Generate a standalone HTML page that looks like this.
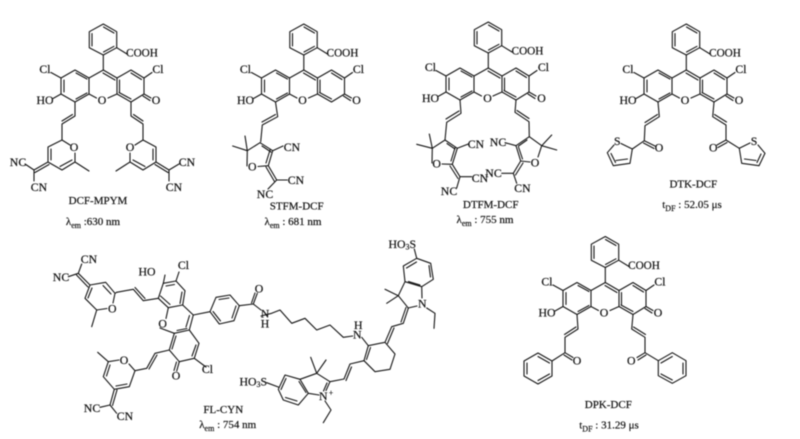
<!DOCTYPE html>
<html><head><meta charset="utf-8"><style>
html,body{margin:0;padding:0;background:#fff;width:800px;height:439px;overflow:hidden}
svg{display:block;filter:blur(.4px)}
.b{fill:none;stroke:#151515;stroke-width:1.1;stroke-linejoin:round;stroke-linecap:round}
text{font-family:"Liberation Serif","DejaVu Serif",serif;font-size:11.8px;fill:#111;stroke:#111;stroke-width:.2;text-anchor:middle;dominant-baseline:central}
.l{font-size:11px}
.s{font-size:8px}
.c{font-size:11.2px}
</style></head><body>
<svg width="800" height="439" viewBox="0 0 800 439" xmlns="http://www.w3.org/2000/svg">
<defs>
<g id="core" class="b">
<path d="M103.3 24L116.7 31.7V47.7L103.3 55L89.3 47.7V31.7ZM92 33.5V46M103.5 27L114 33M114 46.3L103.5 52"/>
<path d="M116.7 47.7L127 54M103.3 55V70"/>
<path d="M103.3 70L89 78V94L96.5 98M108 98L117 94V78L103.3 70M103 73L115 80"/>
<path d="M89 78L75 70L61 78V94L75 102L89 94M64 80V92M76 73L87 79M76 99L87 93"/>
<path d="M117 78L131 70L144 78V94L131 102L117 94M119.5 80V92M131 73L141.5 79.5M131 99L119 92.5"/>
<path d="M61 78L51 72.5M144 78L152 72.5M61 94L53 98.5M144 94L151 98M143 96L150 100.5"/>
</g>
</defs>

<!-- DCF-MPYM -->
<use href="#core"/>
<path class="b" d="M75 102V116L62 124V140M72.5 114.5L62 121M131 102V116L143 124V140M133.5 114.5L143 121"/>
<path class="b" d="M62 140L70 145M75 153V162L62 170L48 162V147L62 140M75 162L89 171M60 166.5L72 160M51 149V160M48 162L34 170M49 164.5L35 172.5M34 170L25 164M34 170V181"/>
<path class="b" d="M143 140L135 145M130 153V162L143 170L156 162V147L143 140M130 162L116 171M145 166.5L133 160M153 149V160M156 162L169 170M155 164.5L168 172.5M169 170L179 164M169 170V181"/>
<text class="c" x="142" y="53.5">COOH</text>
<text x="45" y="69">Cl</text><text x="158" y="69">Cl</text><text x="45" y="100">HO</text>
<text x="102" y="100">O</text><text x="156" y="100">O</text>
<text x="74" y="147">O</text><text x="130" y="147">O</text>
<text x="18" y="162">NC</text><text x="39" y="187">CN</text>
<text x="187" y="162">CN</text><text x="174" y="187">CN</text>
<text class="l" x="98" y="201">DCF-MPYM</text>
<text class="l" x="93" y="222">λ<tspan class="s" dy="3">em</tspan><tspan dy="-3"> :630 nm</tspan></text>

<!-- STFM-DCF -->
<use href="#core" x="200.5"/>
<path class="b" d="M275.5 102L277.7 116.7L262.3 125L260.7 141.7M275.5 114.5L262 122"/>
<path class="b" d="M260 142.7L272.7 150.7L268.3 165.7L258 166.5M247 166L247.3 150.7L260 142.7M262 146L271 152M270 150L266 163"/>
<path class="b" d="M247.3 150.7L232.7 146M247.3 150.7L245 136M272.7 150.7L283 146M268.3 165.7L276.7 180M266 167L274.5 181.5M276.7 180H287.3M276.7 180L268 189"/>
<text class="c" x="342.5" y="53.5">COOH</text>
<text x="245.5" y="69">Cl</text><text x="358.5" y="69">Cl</text><text x="245.5" y="100">HO</text>
<text x="302.5" y="100">O</text><text x="356.5" y="100">O</text>
<text x="252.3" y="166.7">O</text><text x="292" y="147">CN</text><text x="296" y="180">CN</text><text x="265" y="194">NC</text>
<text class="l" x="296.7" y="206.7">STFM-DCF</text>
<text class="l" x="293" y="222">λ<tspan class="s" dy="3">em</tspan><tspan dy="-3"> : 681 nm</tspan></text>

<!-- DTFM-DCF -->
<use href="#core" x="385" y="-2"/>
<path class="b" d="M460 100L461 113.3L446.7 122.3L445 140M459 111L446 119M516 100L515 112.3L529 121.7L529.3 136.7M517 110.5L529 118.5"/>
<path class="b" d="M445 140L457.3 148.3L452.3 164.3L442 164M432 163L432.3 148.3L445 140M447 143.5L455 149M455 148L451 161"/>
<path class="b" d="M432.3 148.3L416.7 144.3M432.3 148.3L429.3 134M457.3 148.3L468.3 144M452.3 164.3L460 176.7M450 166L458 178.5M460 176.7H471.7M460 176.7L456.7 188"/>
<path class="b" d="M529.3 136.7L541.7 145.7L538 157M530 162L520.7 161L516 145.7L529.3 136.7M527 140L518.5 146M518.5 147L522.5 159"/>
<path class="b" d="M541.7 145.7L551.7 135M541.7 145.7L556.7 150M516 145.7L505 142.7M520.7 161L513.3 173.3M523 163L515.5 175M513.3 173.3H501.7M513.3 173.3L516.7 183.3"/>
<text class="c" x="527.5" y="51.5">COOH</text>
<text x="430.5" y="67">Cl</text><text x="543.5" y="67">Cl</text><text x="430.5" y="98">HO</text>
<text x="487.5" y="98">O</text><text x="541.5" y="98">O</text>
<text x="436.7" y="163.3">O</text><text x="535" y="162.3">O</text>
<text x="476" y="144">CN</text><text x="480" y="178">CN</text><text x="449" y="191">NC</text>
<text x="498" y="142">NC</text><text x="493.5" y="173">NC</text><text x="522.5" y="188">CN</text>
<text class="l" x="490.7" y="205">DTFM-DCF</text>
<text class="l" x="485" y="220">λ<tspan class="s" dy="3">em</tspan><tspan dy="-3"> : 755 nm</tspan></text>

<!-- DTK-DCF -->
<use href="#core" x="583"/>
<path class="b" d="M658 102L659.3 116.7L645 125.7L644.3 140.7M657.5 114.5L645 122.5M644.3 140.7L655 146M643.5 143L654 148.5M644.3 140.7L632.3 149"/>
<path class="b" d="M632.3 149L621 143.5M614 145L607.3 152.7L613.3 165.7L630 163.3L632.3 149M611 153.5L615.5 162.5M616 160.5L627.5 159"/>
<path class="b" d="M714 102L712.7 116.7L726 125L726 140M714.5 114.5L726.5 122M726 140L717 145M727 142.5L718 147.5M726 140L739.3 148.3"/>
<path class="b" d="M739.3 148.3L750 143M758 145L765 153.3L759 165.7L741.7 163.3L739.3 148.3M761 154L757 162.5M756 160.5L744.5 159"/>
<text class="c" x="725" y="53.5">COOH</text>
<text x="628" y="69">Cl</text><text x="741" y="69">Cl</text><text x="628" y="100">HO</text>
<text x="685" y="100">O</text><text x="739" y="100">O</text>
<text x="659" y="147.7">O</text><text x="713.3" y="147.7">O</text>
<text x="617.3" y="141">S</text><text x="754" y="141">S</text>
<text class="l" x="693.3" y="184.3">DTK-DCF</text>
<text class="l" x="692" y="205">t<tspan class="s" dy="3">DF</tspan><tspan dy="-3"> : 52.05 μs</tspan></text>

<!-- DPK-DCF -->
<use href="#core" x="502" y="212.5"/>
<path class="b" d="M577 314.5L578 329L565 337.3V352.7M576 327L564.5 334.5M565 352.7L573 357.5M564 355L572 360M565 352.7L552 361"/>
<path class="b" d="M552 361L538 353L524 361V376L538 384L552 376ZM527 363V374M538 356.5L549.5 363M538 380.5L549.5 374"/>
<path class="b" d="M633 314.5L631.7 329L645 337.3V352.7M633.5 327L645.5 334.5M645 352.7L637 357.5M646 355L638 360M645 352.7L658.3 360.7"/>
<path class="b" d="M658.3 360.7L672.3 352.7L686 360.7V375.7L672.3 383.3L658.3 375.7ZM683 363V374M672.3 356.5L661 363M672.3 380L661 374"/>
<text class="c" x="644" y="266">COOH</text>
<text x="547" y="281.5">Cl</text><text x="660" y="281.5">Cl</text><text x="547" y="312.5">HO</text>
<text x="604" y="312.5">O</text><text x="658" y="312.5">O</text>
<text x="577" y="360.5">O</text><text x="631.3" y="360.5">O</text>
<text class="l" x="608.3" y="405">DPK-DCF</text>
<text class="l" x="609" y="425.7">t<tspan class="s" dy="3">DF</tspan><tspan dy="-3"> : 31.29 μs</tspan></text>

<!-- FL-CYN -->
<path class="b" d="M163.3 283.3L176 281L185 290.7L182.7 305L168.3 307.7L158.3 298.3ZM166 286L174.5 284.5M182 292L180 303.5M170 304.5L160.5 296"/>
<path class="b" d="M168.3 307.7L166 318.5M160 328L174.3 333.3L189.3 330L193.3 315L182.7 305M186 327L189.5 315.5M177 330.5L187 328.5"/>
<path class="b" d="M174.3 333.3L169.3 350L179.3 361.7L194.3 358.3L199 343.3L189.3 330M172 349L176 336M196 345L192 356"/>
<path class="b" d="M163.3 283.3L165 275M176 281L179 272M158.3 298.3L143.3 300.7L133.3 289.3L116.7 292.3M145 298.5L135 287.5"/>
<path class="b" d="M193.3 315L210 311.7L216 297.3L230 295L239.3 305.7L234 320.7L219.3 324L210 311.7M219 299.5L229 298M236 306L232 318M213 311.5L220.5 321"/>
<path class="b" d="M239.3 305.7L253.3 304L257.3 293.3M251.5 303L255 293M253.3 304L261 310"/>
<path class="b" d="M116.7 292.3L115 293.3L113 303M107 308.5L96.7 310L85 298.3L90 285L105.7 282.3L115 293.3M96.7 310L91.7 326.7M88 298L92 288M103 285.5L111 294M90 285L78.3 273.3M88 287L76.5 275M78.3 273.3L68.3 276.7M78.3 273.3L81.7 264"/>
<path class="b" d="M194.3 358.3L206 367M179.3 361.7L176.7 371M176.5 362L174 370.5M169.3 350L155 353.3L146.7 368.3L135 370.7M157 355L149 369"/>
<path class="b" d="M135 370.7L129 364M119 360L108.3 361.7L103.3 376.7L114.3 389.3L129.3 386.7L135 370.7M108.3 361.7L97.7 352.3M106.5 376L110 365M116 386L127 384M114.3 389.3L110 405M117 390L112.5 405.5M110 405L100 407.3M110 405L116.7 413.3"/>
<path class="b" d="M261 316L271.7 313.3L280 310L291.7 323.3L305 318.3L316.7 330L330 325L343.3 337.3L352.7 336M361.7 337.3L368.3 345.7"/>
<path class="b" d="M368.3 345.7L385 342.3L395 354L390 369.3L375 371.7L364 360.7ZM370.5 347.5L366.5 359.5M385 342.3L391.7 326.7M387.5 343.5L394 328M391.7 326.7L403.3 323.3L408.3 308.3M401 322L406 307.5"/>
<path class="b" d="M408 308L417 306M407.7 307.3L398.3 295.7L405 281.7L421.7 286.7L422 298M405 281.7L403.3 266L416.7 258.3L430.7 263.3L433.3 279.3L421.7 286.7M406.5 268L416.5 262M429 265.5L430.5 277M408.5 281.5L420 285M416.7 258.3L414.3 249M398.3 295.7L385 289.3M398.3 295.7L386.7 303.3M426.7 308L435 313.3L434 328.3"/>
<path class="b" d="M364 360.7L350 364L344 379L330 381.7M351.5 367L346 380.5M330 381.7L316.7 373.3L300 379.3L308.3 393.3L319 395M330 381.7L326 390.5M327 383L323.5 391M316.7 373.3L310.7 357.3M316.7 373.3L326 360"/>
<path class="b" d="M300 379.3L285 375L278.3 389.3L283.3 400L298.3 405L308.3 393.3M286 378.5L281 389.5M285.5 397.5L297 401M299 381.5L306 392.5M266.7 382.7L278.3 387M325 401L331 410L323.3 422.7"/>
<text x="147" y="271.7">HO</text><text x="183.5" y="265">Cl</text><text x="162.7" y="323.3">O</text>
<text x="176" y="375.7">O</text><text x="207.5" y="369">Cl</text>
<text x="112.3" y="308.3">O</text><text x="124" y="360">O</text>
<text x="61" y="277">NC</text><text x="89" y="259">CN</text><text x="92" y="408">NC</text><text x="125" y="416">CN</text>
<text x="259" y="288.3">O</text><text x="265" y="313.3">N</text><text x="265" y="323.3">H</text>
<text x="357.3" y="334.3">N</text><text x="358.3" y="325">H</text>
<text x="422.3" y="303.5">N</text>
<text x="402.3" y="244">HO<tspan class="s" dy="2.5">3</tspan><tspan dy="-2.5">S</tspan></text>
<text x="253.3" y="381.7">HO<tspan class="s" dy="2.5">3</tspan><tspan dy="-2.5">S</tspan></text>
<text x="323.3" y="396">N</text><text class="s" x="331" y="393">+</text>
<text class="l" x="223.3" y="410">FL-CYN</text>
<text class="l" x="227.7" y="425">λ<tspan class="s" dy="3">em</tspan><tspan dy="-3"> : 754 nm</tspan></text>
</svg>
</body></html>
